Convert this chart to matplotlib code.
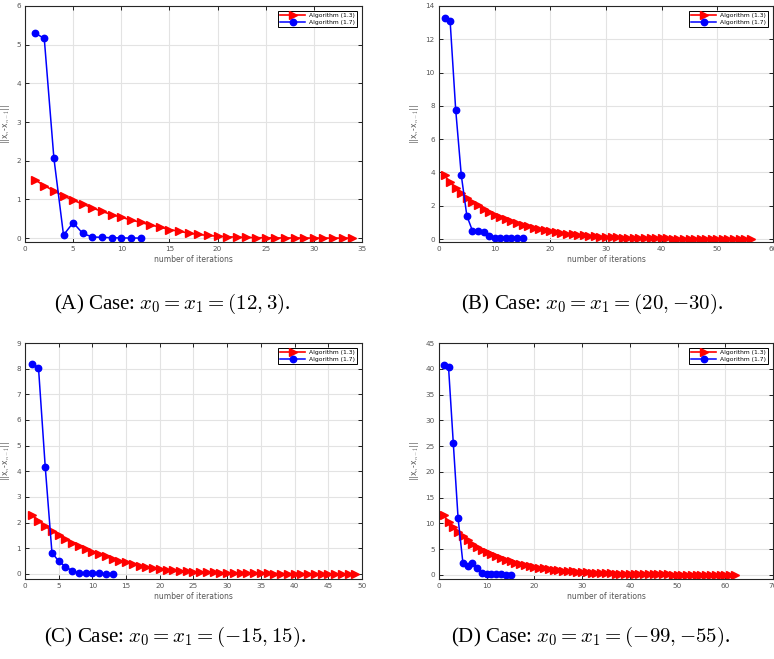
import matplotlib
matplotlib.use("Agg")
import matplotlib.pyplot as plt

plt.rcParams['mathtext.fontset'] = 'cm'

# ---------------- data ----------------
a_red = [1.51, 1.36, 1.22, 1.09, 0.98, 0.88, 0.78, 0.69, 0.61, 0.54, 0.47, 0.41,
         0.34, 0.29, 0.22, 0.18, 0.13, 0.095, 0.07, 0.05, 0.035, 0.025, 0.018,
         0.012, 0.008, 0.005, 0.004, 0.003, 0.002, 0.0015, 0.001, 0.0008, 0.0006,
         0.0004]
a_blue = [5.31, 5.16, 2.07, 0.08, 0.40, 0.12, 0.03, 0.02, 0.01, 0.005, 0.003, 0.002]

b_red = [3.82, 3.42, 3.06, 2.76, 2.48, 2.24, 2.02, 1.82, 1.64, 1.46, 1.34, 1.20,
         1.08, 0.98, 0.84, 0.76, 0.68, 0.58, 0.52, 0.46, 0.41, 0.36, 0.32, 0.28,
         0.25, 0.22, 0.19, 0.17, 0.15, 0.13, 0.115, 0.10, 0.09, 0.08, 0.07, 0.062,
         0.055, 0.048, 0.043, 0.038, 0.033, 0.029, 0.026, 0.023, 0.020, 0.018,
         0.016, 0.014, 0.012, 0.011, 0.010, 0.009, 0.008, 0.007, 0.006, 0.005]
b_blue = [13.25, 13.08, 7.76, 3.84, 1.40, 0.50, 0.46, 0.40, 0.20, 0.06, 0.05, 0.05,
          0.05, 0.04, 0.04]

c_red = [2.31, 2.08, 1.86, 1.68, 1.51, 1.35, 1.21, 1.08, 0.96, 0.87, 0.77, 0.68,
         0.58, 0.52, 0.45, 0.38, 0.31, 0.27, 0.23, 0.20, 0.17, 0.145, 0.125, 0.105,
         0.09, 0.077, 0.066, 0.056, 0.048, 0.041, 0.035, 0.030, 0.026, 0.022,
         0.019, 0.016, 0.014, 0.012, 0.010, 0.009, 0.008, 0.007, 0.006, 0.005,
         0.004, 0.0035, 0.003, 0.0025, 0.002]
c_blue = [8.20, 8.04, 4.18, 0.82, 0.50, 0.28, 0.12, 0.04, 0.02, 0.02, 0.015, 0.01,
          0.01]

d_red = [11.57, 10.34, 9.31, 8.40, 7.50, 6.72, 6.08, 5.43, 4.91, 4.46, 4.00, 3.62,
         3.23, 2.91, 2.65, 2.40, 2.15, 1.95, 1.75, 1.58, 1.42, 1.28, 1.15, 1.04,
         0.93, 0.84, 0.76, 0.68, 0.61, 0.55, 0.50, 0.45, 0.40, 0.36, 0.33, 0.29,
         0.26, 0.24, 0.21, 0.19, 0.17, 0.155, 0.14, 0.125, 0.11, 0.10, 0.09, 0.08,
         0.073, 0.066, 0.059, 0.053, 0.048, 0.043, 0.039, 0.035, 0.031, 0.028,
         0.025, 0.023, 0.021, 0.019]
d_blue = [40.7, 40.3, 25.5, 11.0, 2.4, 1.8, 2.4, 1.3, 0.4, 0.15, 0.10, 0.10, 0.08,
          0.07, 0.07]

red_label = "Algorithm (1.3)"
blue_label = "Algorithm (1.7)"
x_label = "number of iterations"
y_label = r"||x$_n$-x$_{n-1}$||"

captions = [r"(A) Case: $x_0 = x_1 = (12, 3)$.",
            r"(B) Case: $x_0 = x_1 = (20, {-}30)$.",
            r"(C) Case: $x_0 = x_1 = ({-}15, 15)$.",
            r"(D) Case: $x_0 = x_1 = ({-}99, {-}55)$."]

panels = [
    (a_red, a_blue, (0, 35), list(range(0, 36, 5)), (-0.1, 6), list(range(0, 7, 1))),
    (b_red, b_blue, (0, 60), list(range(0, 61, 10)), (-0.18, 14), list(range(0, 15, 2))),
    (c_red, c_blue, (0, 50), list(range(0, 51, 5)), (-0.2, 9), list(range(0, 10, 1))),
    (d_red, d_blue, (0, 70), list(range(0, 71, 10)), (-0.8, 45), list(range(0, 46, 5))),
]

W, H = 774, 659
fig = plt.figure(figsize=(W / 100, H / 100), dpi=100)

# axes boxes in pixels: left, top, right, bottom
boxes = [(25, 6, 362, 242), (439, 6, 773, 242),
         (25, 343, 362, 579), (439, 343, 773, 579)]

tick_col = '#555555'
for (red, blue, xl, xt, yl, yt), (l, t, r, b) in zip(panels, boxes):
    ax = fig.add_axes([l / W, 1 - b / H, (r - l) / W, (b - t) / H])
    xr = list(range(1, len(red) + 1))
    xb = list(range(1, len(blue) + 1))
    ax.plot(xr, red, color='red', marker='>', markersize=5.5, linewidth=1.2,
            label=red_label)
    ax.plot(xb, blue, color='blue', marker='o', markersize=4.6, linewidth=1.1,
            label=blue_label)
    ax.set_xlim(*xl)
    ax.set_ylim(*yl)
    ax.set_xticks(xt)
    ax.set_yticks(yt)
    ax.grid(True, color='#e3e3e3', linewidth=0.8)
    ax.set_axisbelow(True)
    ax.tick_params(direction='in', length=3, width=0.6, top=True, right=True,
                   labelsize=5.2, labelcolor=tick_col, pad=3)
    for s in ax.spines.values():
        s.set_linewidth(0.8)
        s.set_color('#262626')
    ax.set_xlabel(x_label, fontsize=5.5, color=tick_col, labelpad=2)
    ax.set_ylabel(y_label, fontsize=5.5, color=tick_col, labelpad=3)
    leg = ax.legend(loc='upper right', fontsize=4.3, frameon=True, fancybox=False,
                    edgecolor='black', framealpha=1, handlelength=4.2,
                    borderpad=0.4, labelspacing=0.2, handletextpad=0.6,
                    borderaxespad=0.8)
    leg.get_frame().set_linewidth(0.7)

cap_font = ['Liberation Serif', 'DejaVu Serif']
fig.text(172 / W, 1 - 304 / H, captions[0], ha='center', va='center',
         fontsize=15, family=cap_font)
fig.text(592 / W, 1 - 304 / H, captions[1], ha='center', va='center',
         fontsize=15, family=cap_font)
fig.text(175 / W, 1 - 637 / H, captions[2], ha='center', va='center',
         fontsize=15, family=cap_font)
fig.text(591 / W, 1 - 637 / H, captions[3], ha='center', va='center',
         fontsize=15, family=cap_font)

fig.savefig("out.png", dpi=100)
